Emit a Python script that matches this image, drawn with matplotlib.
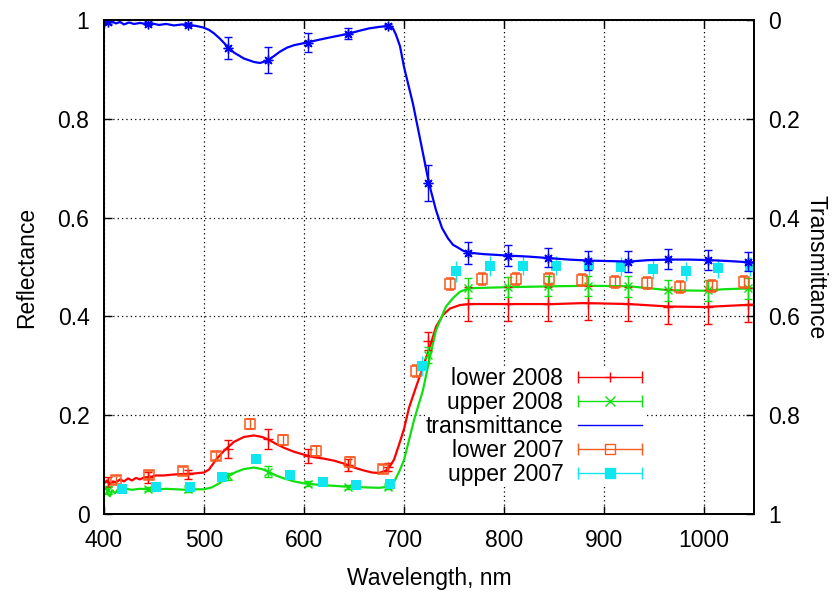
"""Leaf reflectance / transmittance spectra, 2007 and 2008 samples."""
import matplotlib
matplotlib.use("Agg")
import matplotlib.pyplot as plt
from matplotlib.lines import Line2D
from matplotlib.legend_handler import HandlerLine2D
from matplotlib.ticker import FormatStrFormatter, MultipleLocator

plt.rcParams["font.family"]=["Liberation Sans","DejaVu Sans"]
FS=16.5

RED="#ff0000"; GREEN="#10e010"; BLUE="#0000ff"; ORANGE="#f85a1e"; CYAN="#10e6f0"

# dense spectra
lower2008_wl=[400,403,406,409,412,416,420,424,428,432,436,440,446,452,460,470,480,490,500,505,512,520,530,540,550,558,565,572,580,590,600,610,620,630,640,650,660,668,675,682,686,690,695,700,705,711,719,726,732,739,746,756,765,800,850,880,925,965,1000,1020,1050]
lower2008_r=[0.062,0.068,0.060,0.066,0.064,0.070,0.066,0.072,0.068,0.073,0.070,0.074,0.075,0.078,0.078,0.080,0.081,0.082,0.084,0.090,0.110,0.128,0.146,0.156,0.159,0.156,0.150,0.142,0.134,0.126,0.120,0.115,0.112,0.108,0.102,0.094,0.088,0.084,0.083,0.088,0.097,0.110,0.140,0.172,0.215,0.251,0.298,0.339,0.379,0.403,0.416,0.423,0.425,0.425,0.425,0.427,0.425,0.420,0.419,0.421,0.424]

upper2008_wl=[400,402,404,406,408,411,414,418,422,428,436,444,452,462,472,482,492,500,508,516,524,532,540,550,558,565,572,580,590,600,615,630,645,660,675,684,690,695,700,710,719,726,732,742,749,756,765,800,850,885,925,950,965,1000,1020,1050]
upper2008_r=[0.048,0.055,0.040,0.036,0.048,0.042,0.050,0.047,0.051,0.049,0.051,0.050,0.049,0.051,0.050,0.049,0.050,0.050,0.054,0.063,0.076,0.085,0.091,0.094,0.091,0.085,0.078,0.072,0.066,0.062,0.059,0.057,0.055,0.054,0.053,0.055,0.065,0.085,0.109,0.190,0.251,0.318,0.372,0.420,0.437,0.450,0.457,0.459,0.461,0.462,0.461,0.456,0.453,0.452,0.455,0.457]

trans_wl=[400,404,408,412,416,420,425,430,436,442,448,455,462,470,478,485,492,499,505,510,516,524,530,540,550,556,564,570,576,583,590,604,615,629,644,655,665,675,684,689,692,696,700,709,717,725,732,738,744,749,755,759,765,780,805,825,845,865,885,905,925,945,965,985,1005,1025,1050]
trans_t=[0.004,0.008,0.003,0.007,0.004,0.009,0.005,0.008,0.006,0.008,0.007,0.010,0.008,0.011,0.009,0.010,0.012,0.015,0.020,0.027,0.038,0.055,0.066,0.078,0.085,0.087,0.082,0.073,0.064,0.056,0.051,0.045,0.040,0.034,0.028,0.022,0.017,0.014,0.012,0.017,0.030,0.053,0.095,0.170,0.250,0.331,0.385,0.421,0.442,0.455,0.462,0.467,0.471,0.474,0.477,0.479,0.482,0.485,0.487,0.488,0.489,0.486,0.485,0.485,0.486,0.488,0.491]

# error-bar samples, 2008 (shared wavelengths)
pts2008_wl=[404,444,484,524,564,604,644,684,724,764,804,844,884,924,964,1004,1044]
lower2008_pt=[0.065,0.074,0.080,0.132,0.152,0.117,0.099,0.095,0.350,0.425,0.425,0.425,0.427,0.425,0.420,0.419,0.423]
lower2008_err=[0.010,0.011,0.010,0.018,0.021,0.014,0.012,0.008,0.019,0.034,0.034,0.034,0.034,0.035,0.035,0.035,0.035]
upper2008_pt=[0.049,0.050,0.050,0.076,0.086,0.061,0.055,0.054,0.322,0.457,0.459,0.461,0.462,0.461,0.453,0.453,0.457]
upper2008_err=[0.008,0.004,0.005,0.008,0.011,0.005,0.004,0.004,0.017,0.020,0.020,0.020,0.020,0.021,0.021,0.021,0.021]
trans_pt=[0.005,0.008,0.010,0.056,0.081,0.046,0.028,0.012,0.330,0.471,0.477,0.481,0.487,0.489,0.484,0.486,0.489]
trans_err=[0.003,0.003,0.003,0.022,0.027,0.019,0.011,0.004,0.036,0.022,0.021,0.020,0.020,0.021,0.020,0.020,0.020]

# 2007 samples
lower2007_wl=[412,445,479,512,546,579,612,646,679,712,746,778,812,845,878,911,943,976,1008,1040]
lower2007_r=[0.069,0.079,0.087,0.117,0.182,0.150,0.128,0.105,0.092,0.290,0.466,0.475,0.475,0.475,0.474,0.470,0.467,0.460,0.462,0.469]
lower2007_err=[0.008,0.008,0.008,0.008,0.010,0.010,0.010,0.010,0.008,0.012,0.012,0.012,0.012,0.012,0.012,0.012,0.012,0.012,0.012,0.012]
upper2007_wl=[418,452,486,518,552,586,619,652,686,718,752,786,819,852,885,917,949,982,1014,1046]
upper2007_r=[0.050,0.055,0.054,0.075,0.111,0.078,0.065,0.059,0.060,0.300,0.491,0.502,0.503,0.503,0.504,0.501,0.495,0.491,0.497,0.501]
upper2007_err=[0.005,0.005,0.005,0.005,0.005,0.005,0.005,0.005,0.005,0.020,0.022,0.020,0.020,0.020,0.020,0.020,0.020,0.020,0.020,0.020]

labels=["lower 2008","upper 2008","transmittance","lower 2007","upper 2007"]

fig=plt.figure(figsize=(8.36,5.92),dpi=100)
fig.subplots_adjust(left=104/836,right=754/836,bottom=78/592,top=572/592)
ax=fig.add_subplot(111)
ax2=ax.twinx()

ebar=dict(capsize=2.6,elinewidth=1.0,capthick=1.0,linestyle="none")
ax.plot(lower2008_wl,lower2008_r,color=RED,lw=1.6,zorder=2)
ax.errorbar(pts2008_wl,lower2008_pt,yerr=lower2008_err,color=RED,marker="+",ms=7,mew=1,zorder=2.2,**ebar)
ax.plot(upper2008_wl,upper2008_r,color=GREEN,lw=1.6,zorder=2)
ax.errorbar(pts2008_wl,upper2008_pt,yerr=upper2008_err,color=GREEN,marker="x",ms=6,mew=1,zorder=2.2,**ebar)
ax.errorbar(lower2007_wl,lower2007_r,yerr=lower2007_err,color=ORANGE,marker="s",ms=7.5,mfc="none",mew=1.1,zorder=3,**ebar)
ax.errorbar(upper2007_wl,upper2007_r,yerr=upper2007_err,color=CYAN,marker="s",ms=7.5,mew=0,zorder=3.1,**ebar)

ax2.plot(trans_wl,trans_t,color=BLUE,lw=1.6)
ax2.errorbar(pts2008_wl,trans_pt,yerr=trans_err,color=BLUE,marker=(8,2,0),ms=7,mew=1,**ebar)

ax.set_xlim(400,1050); ax.set_ylim(0,1)
ax2.set_ylim(1,0)
ax.xaxis.set_major_locator(MultipleLocator(100))
for axis in (ax,ax2):
    axis.yaxis.set_major_locator(MultipleLocator(0.2))
    axis.yaxis.set_major_formatter(FormatStrFormatter("%g"))
ax.tick_params(direction="in",length=6,width=1,labelsize=FS,pad=10.5,top=True,right=False)
ax2.tick_params(direction="in",length=6,width=1,labelsize=FS,pad=10.5)
ax.set_axisbelow(True)
ax.grid(True,color="black",linestyle=(0,(1,2.5)),linewidth=0.9)
for axis in (ax,ax2):
    for spine in axis.spines.values(): spine.set_linewidth(1.3)

ax.set_xlabel("Wavelength, nm",fontsize=FS,labelpad=11)
ax.set_ylabel("Reflectance",fontsize=FS,labelpad=14)
ax2.set_ylabel("Transmittance",fontsize=FS,rotation=270,va="bottom",labelpad=3)

def _entry(color,marker=None,mfc=None,caps=True):
    line=Line2D([],[],color=color,lw=1,marker=marker,ms=7,mew=1,mfc=mfc if mfc else color)
    if not caps: return line,None
    cap=Line2D([],[],color=color,lw=0,marker="|",ms=8,mew=1)
    return (line,cap),cap

entries=[_entry(RED,"+"),_entry(GREEN,"x"),_entry(BLUE,caps=False),_entry(ORANGE,"s","none"),_entry(CYAN,"s")]
handler_map={cap:HandlerLine2D(numpoints=2,marker_pad=0) for _,cap in entries if cap is not None}
legend=ax.legend([handle for handle,_ in entries],labels,handler_map=handler_map,
                 loc="lower right",bbox_to_anchor=(0.83,0.055),fontsize=FS,markerfirst=False,
                 handlelength=2.8,handletextpad=0.65,labelspacing=0.04,borderpad=0.05,
                 borderaxespad=0,numpoints=1,frameon=True,fancybox=False,
                 facecolor="white",edgecolor="none",framealpha=1)
legend.set_zorder(1.5)

fig.savefig("out.png",dpi=100)
